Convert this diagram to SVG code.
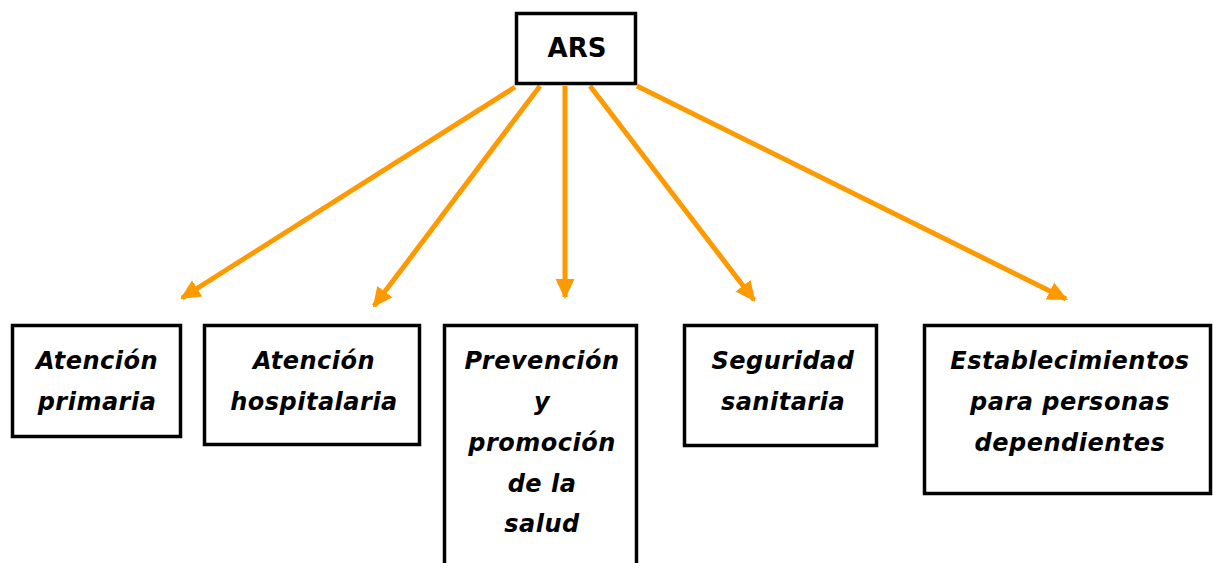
<svg xmlns="http://www.w3.org/2000/svg" width="1213" height="563" viewBox="0 0 1213 563">
<style>
.box{fill:#fff;stroke:#000;stroke-width:3.5}
.t{font-family:"DejaVu Sans",sans-serif;font-weight:bold;font-style:italic;font-size:24px;letter-spacing:0.5px;text-anchor:middle;fill:#000}
.h{font-family:"DejaVu Sans",sans-serif;font-weight:bold;font-size:26px;text-anchor:middle;fill:#000}
.c{stroke:#FF9900;stroke-width:5;fill:none;marker-end:url(#ah)}
</style>
<defs>
<marker id="ah" markerWidth="5" markerHeight="5" refX="3.6" refY="2.5" orient="auto" markerUnits="strokeWidth" viewBox="0 0 5 5">
<path d="M0,0.6 L4,2.5 L0,4.4 Z" fill="#FF9900"/>
</marker>
</defs>
<g id="connectors">
<line class="c" x1="515" y1="87" x2="182" y2="298"/>
<line class="c" x1="540" y1="86" x2="374" y2="306"/>
<line class="c" x1="565" y1="86" x2="565" y2="297"/>
<line class="c" x1="590" y1="86" x2="754" y2="300"/>
<line class="c" x1="637" y1="86" x2="1066" y2="299"/>
</g>
<g id="ars">
<rect class="box" x="516.5" y="13.5" width="119" height="70"/>
<text class="h" x="577" y="57">ARS</text>
</g>
<g id="atencion-primaria">
<rect class="box" x="12.5" y="325.5" width="168" height="111"/>
<text class="t" x="97" y="369">Atención</text>
<text class="t" x="97" y="410">primaria</text>
</g>
<g id="atencion-hospitalaria">
<rect class="box" x="204.5" y="325.5" width="215" height="119"/>
<text class="t" x="314" y="369">Atención</text>
<text class="t" x="314" y="410">hospitalaria</text>
</g>
<g id="prevencion">
<rect class="box" x="444.5" y="325.5" width="192" height="250"/>
<text class="t" x="542" y="369">Prevención</text>
<text class="t" x="542" y="410">y</text>
<text class="t" x="542" y="451">promoción</text>
<text class="t" x="542" y="492">de la</text>
<text class="t" x="542" y="532">salud</text>
</g>
<g id="seguridad">
<rect class="box" x="684.5" y="325.5" width="192" height="120"/>
<text class="t" x="783" y="369">Seguridad</text>
<text class="t" x="783" y="410">sanitaria</text>
</g>
<g id="establecimientos">
<rect class="box" x="924.5" y="325.5" width="286" height="168"/>
<text class="t" x="1070" y="369">Establecimientos</text>
<text class="t" x="1070" y="410">para personas</text>
<text class="t" x="1070" y="451">dependientes</text>
</g>
</svg>
